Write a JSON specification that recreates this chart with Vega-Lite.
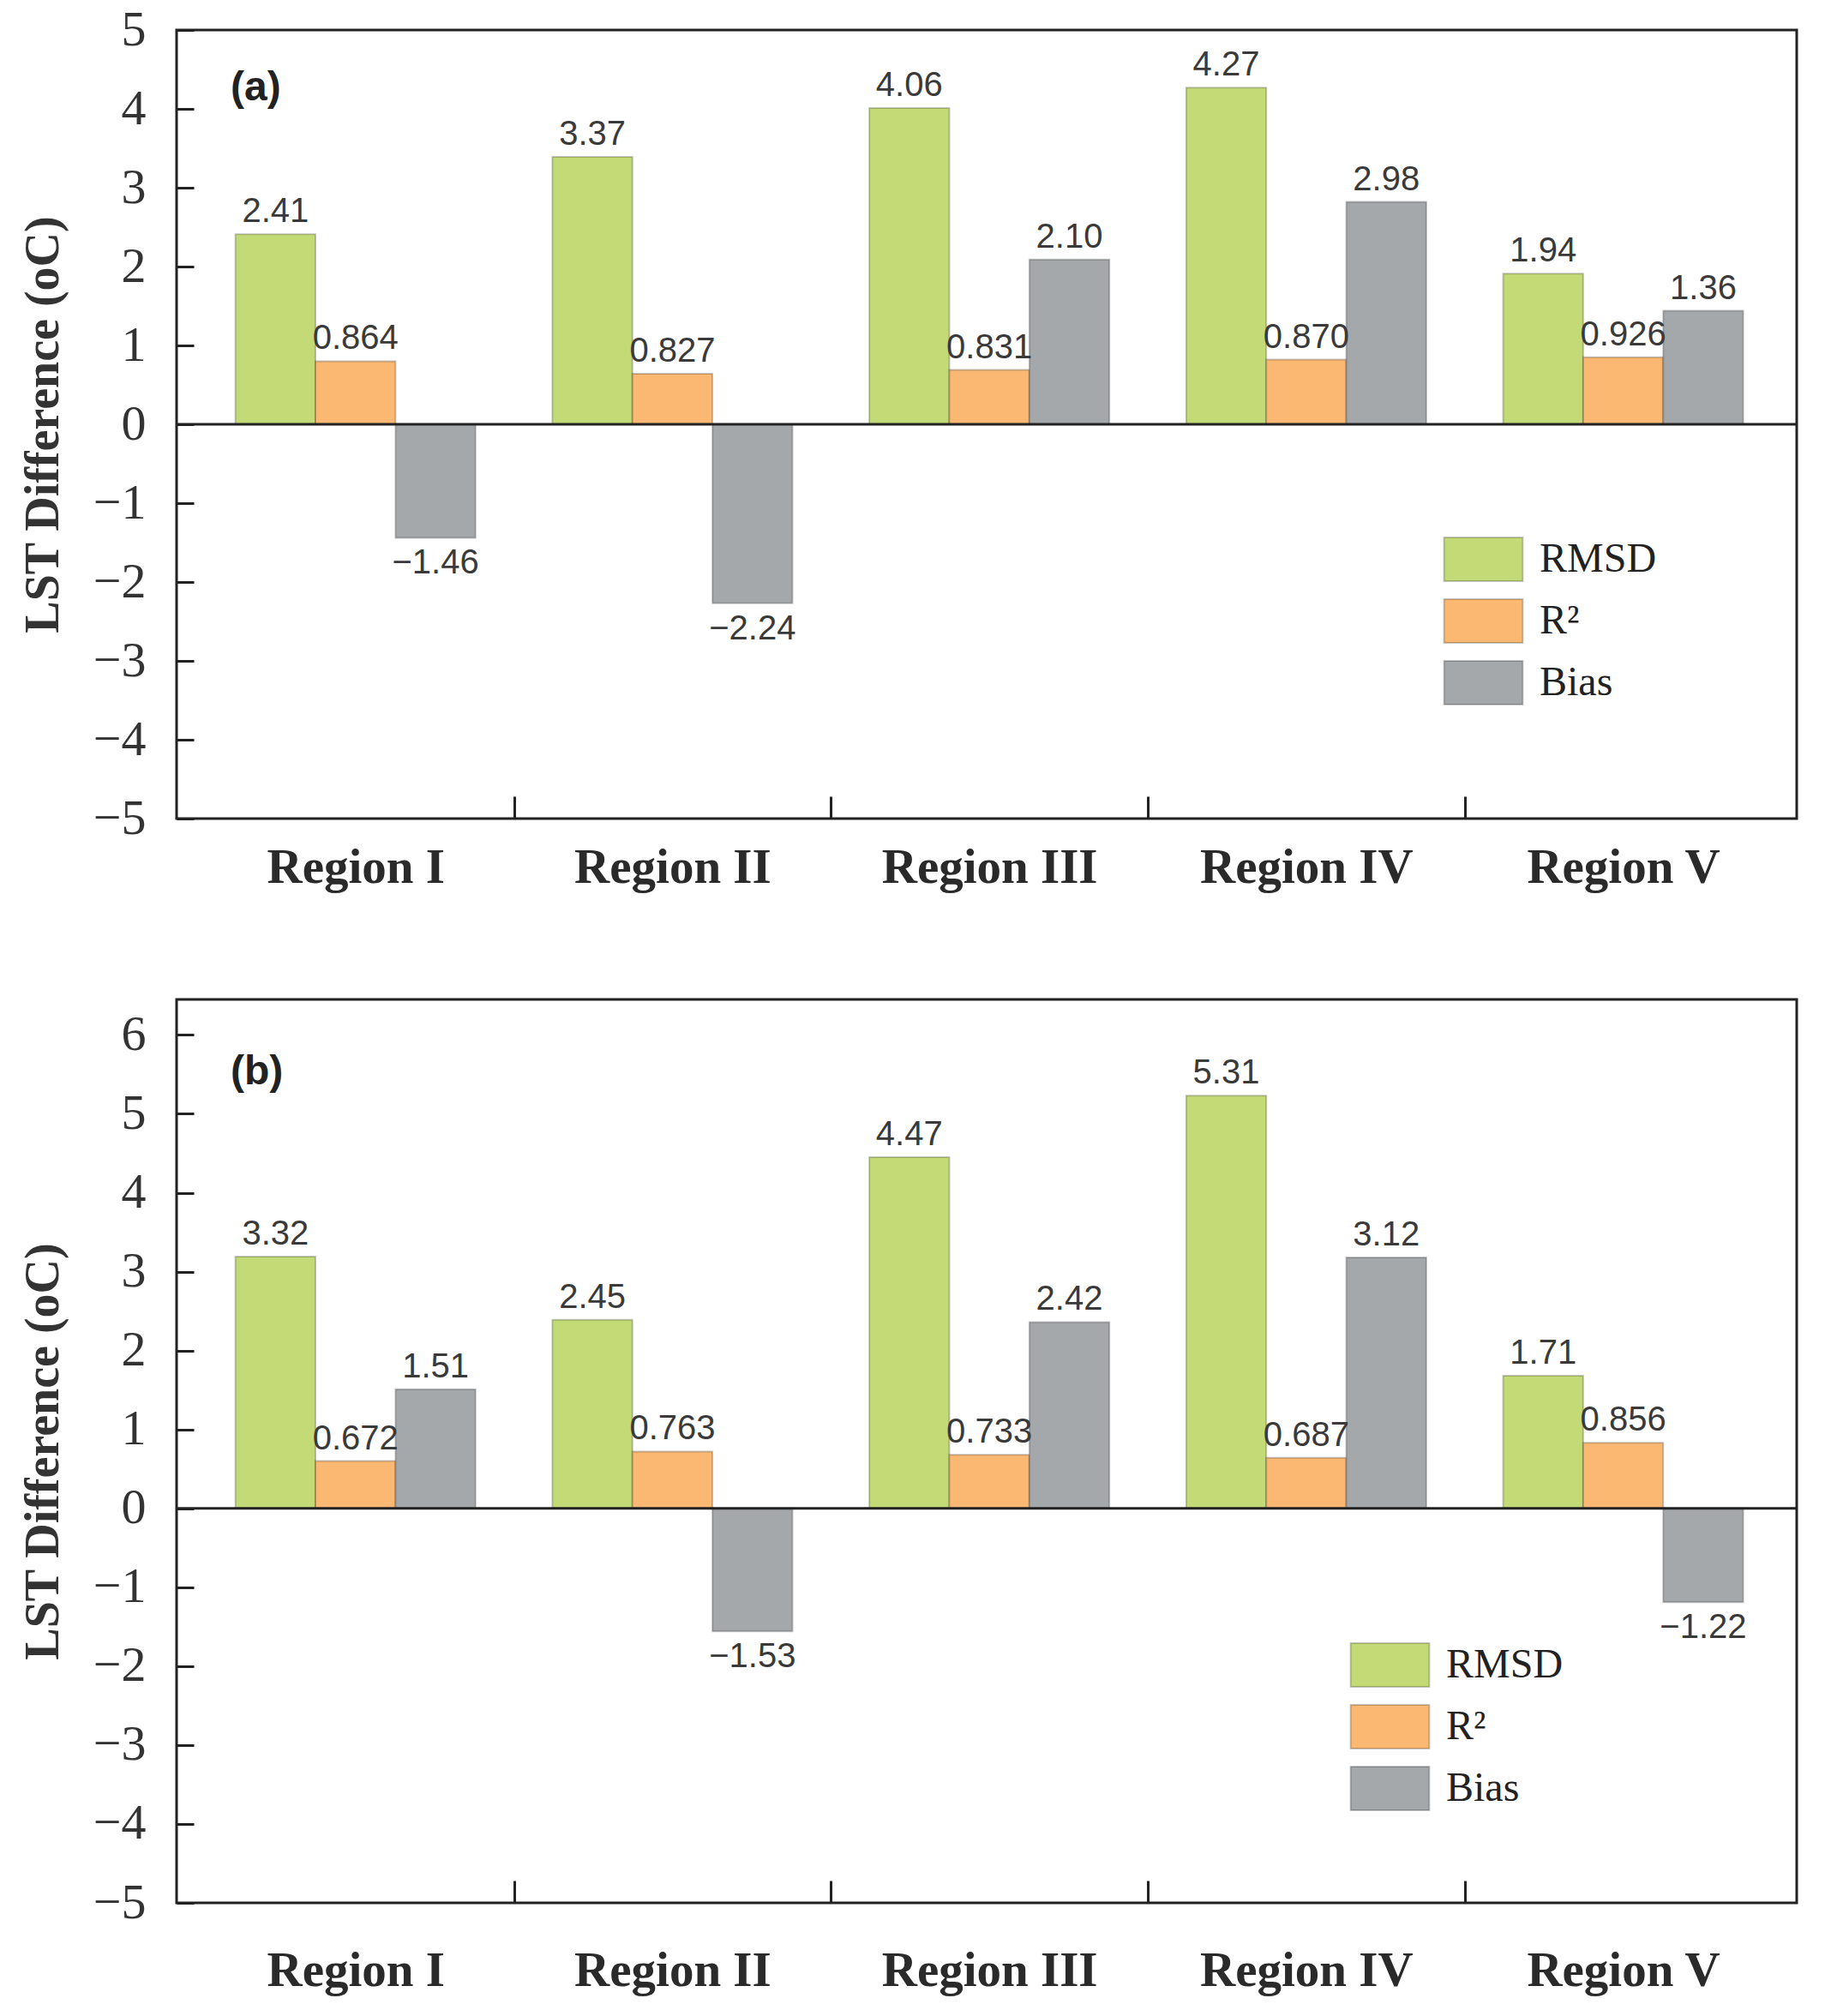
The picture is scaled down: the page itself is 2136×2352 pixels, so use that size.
{
  "$schema": "https://vega.github.io/schema/vega-lite/v6.json",
  "background": "white",
  "padding": {"left": 20, "top": 4, "right": 10, "bottom": 5},
  "spacing": 122,
  "config": {
    "view": {"stroke": "#222222", "strokeWidth": 3},
    "font": "Liberation Serif",
    "axisY": {
      "grid": false, "domain": false, "tickSize": -20, "tickWidth": 3, "tickColor": "#222222",
      "labelFont": "Liberation Serif", "labelFontSize": 58, "labelColor": "#333333", "labelPadding": 56,
      "titleFont": "Liberation Serif", "titleFontWeight": "bold", "titleFontSize": 56, "titleColor": "#333333", "titlePadding": 29
    },
    "axisX": {
      "grid": false, "domain": false, "tickSize": -26, "tickWidth": 3, "tickColor": "#222222", "tickBand": "extent",
      "labelFont": "Liberation Serif", "labelFontWeight": "bold", "labelFontSize": 57, "labelColor": "#2a2a2a", "labelAngle": 0, "labelLimit": 0
    },
    "title": {"font": "Liberation Sans", "fontWeight": "bold", "fontSize": 48, "color": "#222222", "anchor": "start", "frame": "group", "offset": 0, "baseline": "middle", "dx": 63}
  },
  "datasets": {
    "a": [
      {"region": "Region I", "metric": "RMSD", "value": 2.41, "label": "2.41"},
      {"region": "Region I", "metric": "R²", "value": 0.80, "label": "0.864"},
      {"region": "Region I", "metric": "Bias", "value": -1.44, "label": "−1.46"},
      {"region": "Region II", "metric": "RMSD", "value": 3.39, "label": "3.37"},
      {"region": "Region II", "metric": "R²", "value": 0.64, "label": "0.827"},
      {"region": "Region II", "metric": "Bias", "value": -2.27, "label": "−2.24"},
      {"region": "Region III", "metric": "RMSD", "value": 4.01, "label": "4.06"},
      {"region": "Region III", "metric": "R²", "value": 0.69, "label": "0.831"},
      {"region": "Region III", "metric": "Bias", "value": 2.09, "label": "2.10"},
      {"region": "Region IV", "metric": "RMSD", "value": 4.27, "label": "4.27"},
      {"region": "Region IV", "metric": "R²", "value": 0.82, "label": "0.870"},
      {"region": "Region IV", "metric": "Bias", "value": 2.82, "label": "2.98"},
      {"region": "Region V", "metric": "RMSD", "value": 1.91, "label": "1.94"},
      {"region": "Region V", "metric": "R²", "value": 0.85, "label": "0.926"},
      {"region": "Region V", "metric": "Bias", "value": 1.44, "label": "1.36"}
    ],
    "b": [
      {"region": "Region I", "metric": "RMSD", "value": 3.19, "label": "3.32"},
      {"region": "Region I", "metric": "R²", "value": 0.60, "label": "0.672"},
      {"region": "Region I", "metric": "Bias", "value": 1.51, "label": "1.51"},
      {"region": "Region II", "metric": "RMSD", "value": 2.39, "label": "2.45"},
      {"region": "Region II", "metric": "R²", "value": 0.72, "label": "0.763"},
      {"region": "Region II", "metric": "Bias", "value": -1.56, "label": "−1.53"},
      {"region": "Region III", "metric": "RMSD", "value": 4.45, "label": "4.47"},
      {"region": "Region III", "metric": "R²", "value": 0.68, "label": "0.733"},
      {"region": "Region III", "metric": "Bias", "value": 2.36, "label": "2.42"},
      {"region": "Region IV", "metric": "RMSD", "value": 5.23, "label": "5.31"},
      {"region": "Region IV", "metric": "R²", "value": 0.64, "label": "0.687"},
      {"region": "Region IV", "metric": "Bias", "value": 3.18, "label": "3.12"},
      {"region": "Region V", "metric": "RMSD", "value": 1.68, "label": "1.71"},
      {"region": "Region V", "metric": "R²", "value": 0.83, "label": "0.856"},
      {"region": "Region V", "metric": "Bias", "value": -1.19, "label": "−1.22"}
    ]
  },
  "resolve": {"scale": {"fill": "independent"}, "legend": {"fill": "independent"}},
  "vconcat": [
    {
      "width": 1890, "height": 920,
      "title": {"text": "(a)", "dy": 125},
      "data": {"name": "a"},
      "encoding": {
        "y": {"field": "value", "type": "quantitative", "scale": {"domain": [-5, 5], "nice": false, "zero": false},
              "axis": {"values": [-5, -4, -3, -2, -1, 0, 1, 2, 3, 4, 5], "title": "LST Difference (oC)"}}
      },
      "layer": [
        {
          "mark": {"type": "bar", "stroke": "rgba(0,0,0,0.22)", "strokeWidth": 2},
          "encoding": {
            "x": {"field": "region", "type": "nominal", "title": null, "sort": ["Region I", "Region II", "Region III", "Region IV", "Region V"],
                  "scale": {"paddingInner": 0, "paddingOuter": 0.056, "align": 0.576},
                  "axis": {"labelPadding": 55, "tickOpacity": {"condition": {"test": "datum.index < 0 || datum.index >= 1", "value": 0}, "value": 1}}},
            "xOffset": {"field": "metric", "type": "nominal", "sort": ["RMSD", "R²", "Bias"], "scale": {"paddingInner": 0, "paddingOuter": 0.48}},
            "fill": {"field": "metric", "type": "nominal", "sort": ["RMSD", "R²", "Bias"],
                     "scale": {"domain": ["RMSD", "R²", "Bias"], "range": ["#c4da77", "#fab873", "#a5a8ab"]},
                     "legend": {"title": null, "orient": "none", "legendX": 1477, "legendY": 591,
                                "symbolType": "M-1.8,-1H1.8V1H-1.8Z", "symbolSize": 2601, "symbolOffset": 21,
                                "symbolStrokeColor": "rgba(0,0,0,0.22)", "symbolStrokeWidth": 2,
                                "labelOffset": 39, "rowPadding": 13, "labelFont": "Liberation Serif", "labelFontSize": 48, "labelColor": "#222222"}}
          }
        },
        {
          "transform": [{"filter": "datum.value >= 0"}],
          "mark": {"type": "text", "baseline": "bottom", "dy": -6, "font": "Liberation Sans Narrow, Liberation Sans", "fontSize": 40, "color": "#3a3a3a"},
          "encoding": {
            "x": {"field": "region", "type": "nominal", "sort": ["Region I", "Region II", "Region III", "Region IV", "Region V"]},
            "xOffset": {"field": "metric", "type": "nominal", "sort": ["RMSD", "R²", "Bias"]},
            "text": {"field": "label"}
          }
        },
        {
          "transform": [{"filter": "datum.value < 0"}],
          "mark": {"type": "text", "baseline": "top", "dy": 10, "font": "Liberation Sans Narrow, Liberation Sans", "fontSize": 40, "color": "#3a3a3a"},
          "encoding": {
            "x": {"field": "region", "type": "nominal", "sort": ["Region I", "Region II", "Region III", "Region IV", "Region V"]},
            "xOffset": {"field": "metric", "type": "nominal", "sort": ["RMSD", "R²", "Bias"]},
            "text": {"field": "label"}
          }
        },
        {
          "data": {"values": [{"zero": 0}]},
          "mark": {"type": "rule", "color": "#222222", "strokeWidth": 3},
          "encoding": {"y": {"field": "zero", "type": "quantitative"}}
        }
      ]
    },
    {
      "width": 1890, "height": 1054,
      "title": {"text": "(b)", "dy": 113},
      "data": {"name": "b"},
      "encoding": {
        "y": {"field": "value", "type": "quantitative", "scale": {"domain": [-5, 6.45], "nice": false, "zero": false},
              "axis": {"values": [-5, -4, -3, -2, -1, 0, 1, 2, 3, 4, 5, 6], "title": "LST Difference (oC)"}}
      },
      "layer": [
        {
          "mark": {"type": "bar", "stroke": "rgba(0,0,0,0.22)", "strokeWidth": 2},
          "encoding": {
            "x": {"field": "region", "type": "nominal", "title": null, "sort": ["Region I", "Region II", "Region III", "Region IV", "Region V"],
                  "scale": {"paddingInner": 0, "paddingOuter": 0.056, "align": 0.576},
                  "axis": {"labelPadding": 77, "tickOpacity": {"condition": {"test": "datum.index < 0 || datum.index >= 1", "value": 0}, "value": 1}}},
            "xOffset": {"field": "metric", "type": "nominal", "sort": ["RMSD", "R²", "Bias"], "scale": {"paddingInner": 0, "paddingOuter": 0.48}},
            "fill": {"field": "metric", "type": "nominal", "sort": ["RMSD", "R²", "Bias"],
                     "scale": {"domain": ["RMSD", "R²", "Bias"], "range": ["#c4da77", "#fab873", "#a5a8ab"]},
                     "legend": {"title": null, "orient": "none", "legendX": 1368, "legendY": 750,
                                "symbolType": "M-1.8,-1H1.8V1H-1.8Z", "symbolSize": 2601, "symbolOffset": 21,
                                "symbolStrokeColor": "rgba(0,0,0,0.22)", "symbolStrokeWidth": 2,
                                "labelOffset": 39, "rowPadding": 13, "labelFont": "Liberation Serif", "labelFontSize": 48, "labelColor": "#222222"}}
          }
        },
        {
          "transform": [{"filter": "datum.value >= 0"}],
          "mark": {"type": "text", "baseline": "bottom", "dy": -6, "font": "Liberation Sans Narrow, Liberation Sans", "fontSize": 40, "color": "#3a3a3a"},
          "encoding": {
            "x": {"field": "region", "type": "nominal", "sort": ["Region I", "Region II", "Region III", "Region IV", "Region V"]},
            "xOffset": {"field": "metric", "type": "nominal", "sort": ["RMSD", "R²", "Bias"]},
            "text": {"field": "label"}
          }
        },
        {
          "transform": [{"filter": "datum.value < 0"}],
          "mark": {"type": "text", "baseline": "top", "dy": 10, "font": "Liberation Sans Narrow, Liberation Sans", "fontSize": 40, "color": "#3a3a3a"},
          "encoding": {
            "x": {"field": "region", "type": "nominal", "sort": ["Region I", "Region II", "Region III", "Region IV", "Region V"]},
            "xOffset": {"field": "metric", "type": "nominal", "sort": ["RMSD", "R²", "Bias"]},
            "text": {"field": "label"}
          }
        },
        {
          "data": {"values": [{"zero": 0}]},
          "mark": {"type": "rule", "color": "#222222", "strokeWidth": 3},
          "encoding": {"y": {"field": "zero", "type": "quantitative"}}
        }
      ]
    }
  ]
}
